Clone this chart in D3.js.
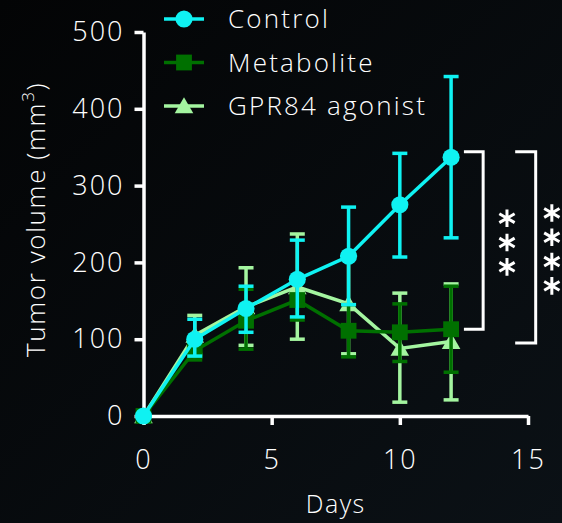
<!DOCTYPE html>
<html>
<head>
<meta charset="utf-8">
<script src="https://cdn.jsdelivr.net/npm/d3@7/dist/d3.min.js"></script>
<style>
  html, body { margin: 0; padding: 0; background: #07090c; }
  svg { display: block; }
  text { font-family: "Open Sans", Lato, sans-serif; font-weight: 300; fill: #fff; }
</style>
</head>
<body>
<div id="chart"></div>
<script>
  // days measured
  const days = [0, 2, 4, 6, 8, 10, 12];

  // mean tumor volume and error bars (upper / lower), mm3
  const controlMean = [0, 100, 140, 178, 208, 275, 337];
  const controlHi   = [0, 126, 169, 229, 272, 342, 442];
  const controlLo   = [0, 78, 109, 129, 145, 207, 232];

  const metaboliteMean = [0, 85, 124, 151, 111, 109, 113];
  const metaboliteHi   = [0, 100, 165, 176, 145, 146, 169];
  const metaboliteLo   = [0, 73, 87, 125, 77, 71, 57];

  const agonistMean = [0, 105, 142, 168, 146, 88, 97];
  const agonistHi   = [0, 131, 193, 237, 211, 160, 172];
  const agonistLo   = [0, 80, 92, 100, 81, 18, 21];

  const groups = ['Control', 'Metabolite', 'GPR84 agonist'];
  const xTicks = [0, 5, 10, 15];
  const yTicks = [0, 100, 200, 300, 400, 500];

  // significance brackets: [x start, x end, y top, y bottom, stars, star column x] (data units)
  const brackets = [
    [12.5, 13.25, 344, 113, '***', 14.18],
    [14.5, 15.3, 344, 95, '****', 15.93]
  ];

  let width = 562;
  let height = 523;

  let colors = { 'Control': '#0ff2f2', 'Metabolite': '#007000', 'GPR84 agonist': '#a4f5a0' };
  let symbols = { 'Control': d3.symbolCircle, 'Metabolite': d3.symbolSquare, 'GPR84 agonist': d3.symbolTriangle };
  let symSize = { 'Control': 230, 'Metabolite': 250, 'GPR84 agonist': 150 };

  let series = {
    'Control': { mean: controlMean, hi: controlHi, lo: controlLo },
    'Metabolite': { mean: metaboliteMean, hi: metaboliteHi, lo: metaboliteLo },
    'GPR84 agonist': { mean: agonistMean, hi: agonistHi, lo: agonistLo }
  };

  let svg = d3.select('#chart').append('svg')
    .attr('width', width)
    .attr('height', height);

  // subtle dark background gradient
  let grad = svg.append('defs').append('linearGradient')
    .attr('id', 'bg').attr('x1', 0).attr('y1', 0).attr('x2', 1).attr('y2', 1);
  grad.append('stop').attr('offset', '0%').attr('stop-color', '#030405');
  grad.append('stop').attr('offset', '100%').attr('stop-color', '#0b1116');
  svg.append('rect').attr('width', width).attr('height', height).attr('fill', 'url(#bg)');

  let x = d3.scaleLinear().domain([0, 15]).range([143.5, 528]);
  let y = d3.scaleLinear().domain([0, 500]).range([416, 32]);

  // axes
  let xAxis = svg.append('g')
    .attr('transform', `translate(0, ${y(0)})`)
    .call(d3.axisBottom(x).tickValues(xTicks).tickSize(9).tickSizeOuter(0).tickPadding(25));
  let yAxis = svg.append('g')
    .attr('transform', `translate(${x(0)}, 0)`)
    .call(d3.axisLeft(y).tickValues(yTicks).tickSize(9).tickSizeOuter(0).tickPadding(10));

  [xAxis, yAxis].forEach((ax) => {
    ax.select('.domain').attr('stroke', '#fff').attr('stroke-width', 3.5);
    ax.selectAll('.tick line').attr('stroke', '#fff').attr('stroke-width', 3.5);
    ax.selectAll('.tick text').attr('fill', '#fff').style('font-size', '27px')
      .style('letter-spacing', '2px')
      .style('font-family', '"Open Sans", Lato, sans-serif').style('font-weight', 300);
  });

  // axis titles
  svg.append('text')
    .attr('x', x(7.5)).attr('y', 513)
    .attr('text-anchor', 'middle')
    .style('font-size', '25px')
    .style('letter-spacing', '1.5px')
    .text('Days');

  let yTitle = svg.append('text')
    .attr('transform', `translate(45, ${y(256)}) rotate(-90)`)
    .attr('text-anchor', 'middle')
    .style('font-size', '26px')
    .style('letter-spacing', '1.6px');
  yTitle.append('tspan').text('Tumor volume (mm');
  yTitle.append('tspan').attr('dy', -11).style('font-size', '17px').text('3');
  yTitle.append('tspan').attr('dy', 11).text(')');

  // draw series: agonist first, control on top
  ['GPR84 agonist', 'Metabolite', 'Control'].forEach((name) => {
    let s = series[name];
    let c = colors[name];
    let g = svg.append('g');
    let pts = days.map((d, i) => ({ d: d, m: s.mean[i], hi: s.hi[i], lo: s.lo[i] }));

    let err = g.selectAll('.err').data(pts.filter((p) => p.hi > p.lo)).enter().append('g');
    err.append('line')
      .attr('x1', (p) => x(p.d)).attr('x2', (p) => x(p.d))
      .attr('y1', (p) => y(p.hi)).attr('y2', (p) => y(p.lo))
      .attr('stroke', c).attr('stroke-width', 3.5);
    err.selectAll('.cap').data((p) => [p.hi, p.lo].map((v) => ({ d: p.d, v: v }))).enter().append('line')
      .attr('x1', (p) => x(p.d) - 7.5).attr('x2', (p) => x(p.d) + 7.5)
      .attr('y1', (p) => y(p.v)).attr('y2', (p) => y(p.v))
      .attr('stroke', c).attr('stroke-width', 3.5);

    g.append('path')
      .datum(pts)
      .attr('fill', 'none')
      .attr('stroke', c)
      .attr('stroke-width', 3.5)
      .attr('d', d3.line().x((p) => x(p.d)).y((p) => y(p.m)));

    g.selectAll('.pt').data(pts).enter().append('path')
      .attr('transform', (p) => `translate(${x(p.d)}, ${y(p.m) + (name === 'GPR84 agonist' ? 2 : 0)})`)
      .attr('d', d3.symbol().type(symbols[name]).size(symSize[name]))
      .attr('fill', c);
  });

  // legend
  let legend = svg.selectAll('.legend').data(groups).enter().append('g')
    .attr('transform', (d, i) => `translate(184, ${19 + i * 43.5})`);
  legend.append('line')
    .attr('x1', -20).attr('x2', 20)
    .attr('stroke', (d) => colors[d]).attr('stroke-width', 3.5);
  legend.append('path')
    .attr('transform', (d) => `translate(0, ${d === 'GPR84 agonist' ? 2 : 0})`)
    .attr('d', (d) => d3.symbol().type(symbols[d]).size(symSize[d])())
    .attr('fill', (d) => colors[d]);
  legend.append('text')
    .attr('x', 44).attr('dy', '0.36em')
    .style('font-size', '26px')
    .style('letter-spacing', '2.2px')
    .text((d) => d);

  // significance brackets
  let star = d3.symbol().type(d3.symbolAsterisk).size(220);
  brackets.forEach((b) => {
    svg.append('path')
      .attr('d', `M${x(b[0])},${y(b[2])}H${x(b[1])}V${y(b[3])}H${x(b[0])}`)
      .attr('fill', 'none')
      .attr('stroke', '#fff')
      .attr('stroke-width', 3);
    let n = b[4].length;
    let mid = (y(b[2]) + y(b[3])) / 2;
    d3.range(n).forEach((i) => {
      svg.append('path')
        .attr('transform', `translate(${x(b[5])}, ${mid + (i - (n - 1) / 2) * 24.3 + 2})`)
        .attr('d', star())
        .attr('fill', 'none')
        .attr('stroke', '#fff')
        .attr('stroke-width', 3);
    });
  });
</script>
</body>
</html>
